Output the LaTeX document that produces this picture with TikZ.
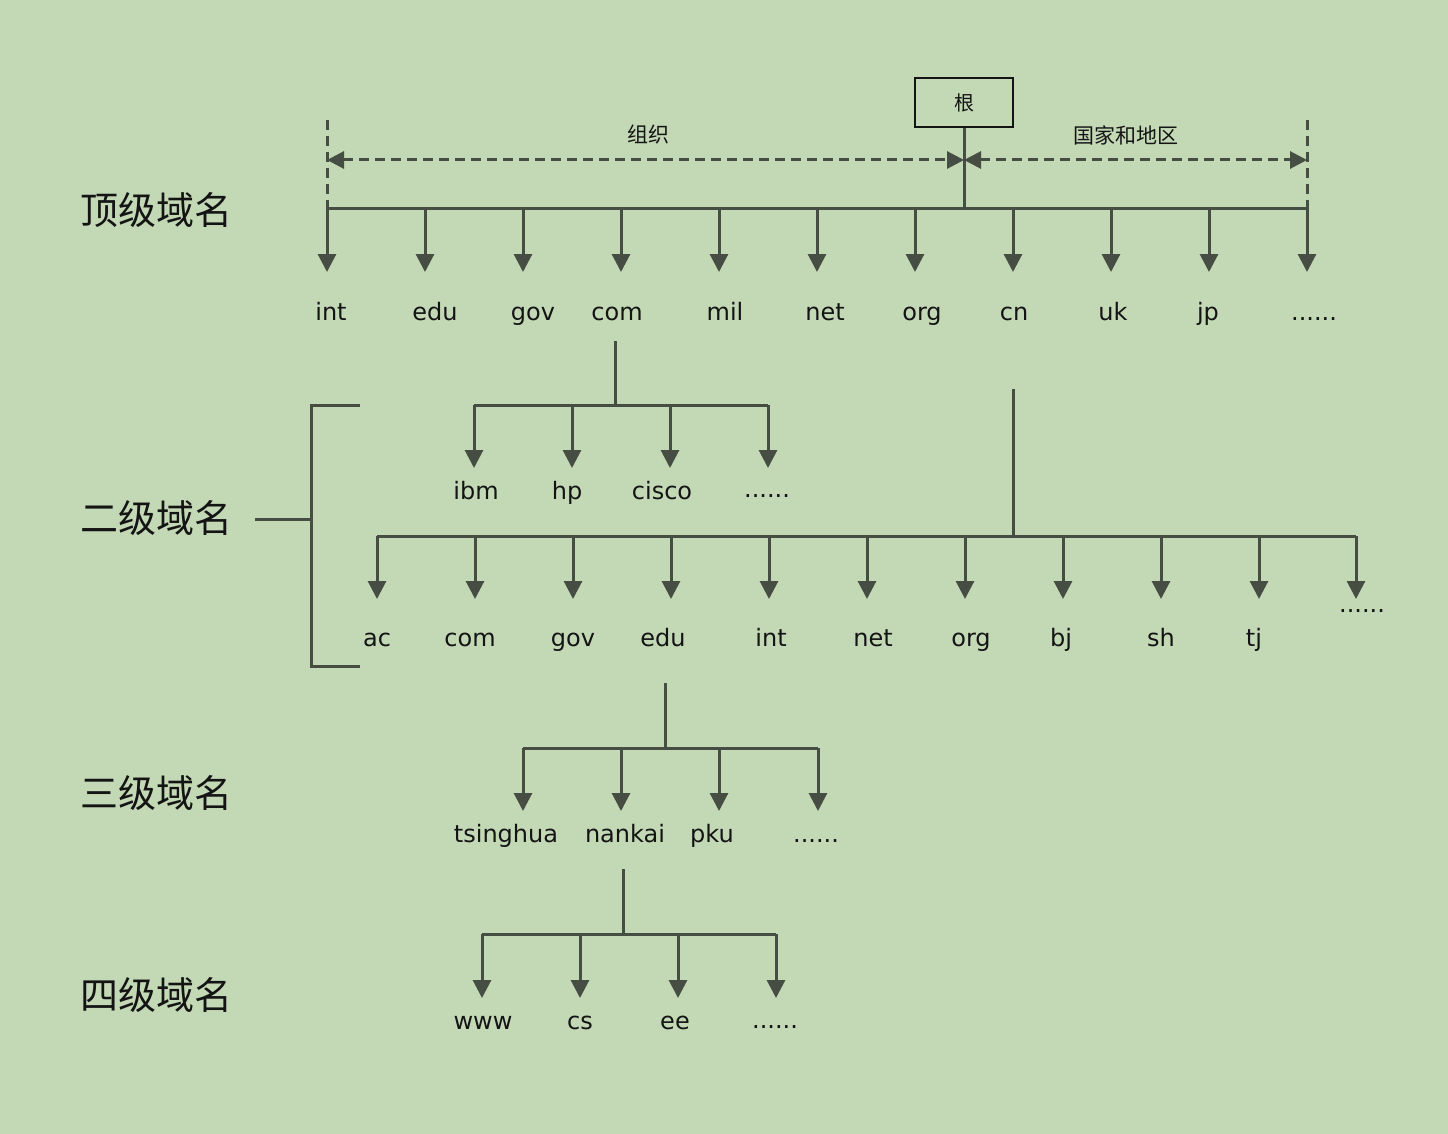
\documentclass[tikz,border=0pt]{standalone}
\usepackage{fontspec}
\setmainfont{DejaVu Sans}
\newfontfamily\cjk{Noto Sans CJK SC}
\usetikzlibrary{arrows.meta}
\definecolor{bgc}{RGB}{195,216,181}
\definecolor{lnc}{RGB}{70,77,67}
\definecolor{txc}{RGB}{20,20,20}
\begin{document}
\begin{tikzpicture}[x=1pt,y=-1pt,
  solidln/.style={draw=lnc,line width=3pt},
  arr/.style={solidln,-{Triangle[width=18pt,length=18pt]}},
  dsh/.style={draw=lnc,line width=3pt,dash pattern=on 10pt off 6pt},
  dsharr/.style={dsh,{Triangle[width=17pt,length=17pt]}-{Triangle[width=17pt,length=17pt]}},
  lab/.style={text=txc,font=\fontsize{24}{24}\selectfont,inner sep=0pt,anchor=base},
  lvl/.style={text=txc,font=\cjk\fontsize{38}{38}\selectfont,inner sep=0pt},
  captext/.style={text=txc,font=\cjk\fontsize{21}{21}\selectfont,inner sep=0pt},
  rootbox/.style={draw=txc,line width=2pt,minimum width=98pt,minimum height=49pt,text=txc,font=\cjk\fontsize{20}{20}\selectfont}]
\fill[bgc] (0,0) rectangle (1448,1134);
\useasboundingbox (0,0) rectangle (1448,1134);

% level labels
\node[lvl] (L1) at (156,210) {顶级域名};
\node[lvl] (L2) at (156,518) {二级域名};
\node[lvl] (L3) at (156,793) {三级域名};
\node[lvl] (L4) at (156,995) {四级域名};

% root
\node[rootbox] (root) at (964,103) {根};
\coordinate (rc) at (964,160);
\coordinate (rb) at (964,209);
\draw[solidln] (root.south) -- (rb);

% dashed markers
\coordinate (dlt) at (327,120);
\coordinate (dlb) at (327,209);
\coordinate (drt) at (1307,120);
\coordinate (drb) at (1307,209);
\draw[dsh] (dlt) -- (dlb);
\draw[dsh] (drt) -- (drb);
\coordinate (dl) at (327,160);
\coordinate (dr) at (1307,160);
\draw[dsharr] (dl) -- (rc);
\draw[dsharr] (rc) -- (dr);
\node[captext] (orgcap) at (648,135) {组织};
\node[captext] (ctycap) at (1126,135) {国家和地区};

% top level bus
\coordinate (b1l) at (327,209);
\coordinate (b1r) at (1307,209);
\draw[solidln] (b1l) -- (b1r);
\coordinate (e1) at (0,272);
\foreach \x [count=\i] in {327,425,523,621,719,817,915,1013,1111,1209,1307}{
  \coordinate (t\i) at (\x,209);
  \draw[arr] (t\i) -- (t\i |- e1);
}
\foreach \x/\t [count=\i] in {331/int,435/edu,533/gov,617/com,725/mil,825/net,922/org,1014/cn,1113/uk,1208/jp}{
  \node[lab] (n1-\i) at (\x,320) {\t};
}
\node[lab] (n1-11) at (1314,320) {......};

% com subtree
\coordinate (c0) at (615,341);
\coordinate (c1) at (615,405);
\coordinate (c1l) at (474,405);
\coordinate (c1r) at (768,405);
\draw[solidln] (c0) -- (c1);
\draw[solidln] (c1l) -- (c1r);
\coordinate (e2) at (0,468);
\foreach \x [count=\i] in {474,572,670,768}{
  \coordinate (s\i) at (\x,405);
  \draw[arr] (s\i) -- (s\i |- e2);
}
\foreach \x/\t [count=\i] in {476/ibm,567/hp,662/cisco}{
  \node[lab] (n2-\i) at (\x,499) {\t};
}
\node[lab] (n2-4) at (767,497) {......};

% cn subtree
\coordinate (k0) at (1013,389);
\coordinate (k1) at (1013,536);
\coordinate (k1l) at (377,536);
\coordinate (k1r) at (1356,536);
\draw[solidln] (k0) -- (k1);
\draw[solidln] (k1l) -- (k1r);
\coordinate (e3) at (0,599);
\foreach \x [count=\i] in {377,475,573,671,769,867,965,1063,1161,1259,1356}{
  \coordinate (k\i t) at (\x,536);
  \draw[arr] (k\i t) -- (k\i t |- e3);
}
\foreach \x/\t [count=\i] in {377/ac,470/com,573/gov,663/edu,771/int,873/net,971/org,1061/bj,1161/sh,1254/tj}{
  \node[lab] (n3-\i) at (\x,646) {\t};
}
\node[lab] (n3-11) at (1362,612) {......};

% bracket
\coordinate (brt) at (311,405);
\coordinate (brb) at (311,666);
\coordinate (brtr) at (360,405);
\coordinate (brbr) at (360,666);
\coordinate (brm) at (311,519);
\coordinate (brml) at (255,519);
\draw[solidln] (brtr) -- (brt) -- (brb) -- (brbr);
\draw[solidln] (brml) -- (brm);

% edu subtree
\coordinate (u0) at (665,683);
\coordinate (u1) at (665,748);
\coordinate (u1l) at (523,748);
\coordinate (u1r) at (818,748);
\draw[solidln] (u0) -- (u1);
\draw[solidln] (u1l) -- (u1r);
\coordinate (e4) at (0,811);
\foreach \x [count=\i] in {523,621,719,818}{
  \coordinate (u\i t) at (\x,748);
  \draw[arr] (u\i t) -- (u\i t |- e4);
}
\foreach \x/\t [count=\i] in {506/tsinghua,625/nankai,712/pku}{
  \node[lab] (n4-\i) at (\x,842) {\t};
}
\node[lab] (n4-4) at (816,842) {......};

% nankai subtree
\coordinate (w0) at (623,869);
\coordinate (w1) at (623,934);
\coordinate (w1l) at (482,934);
\coordinate (w1r) at (776,934);
\draw[solidln] (w0) -- (w1);
\draw[solidln] (w1l) -- (w1r);
\coordinate (e5) at (0,998);
\foreach \x [count=\i] in {482,580,678,776}{
  \coordinate (w\i t) at (\x,934);
  \draw[arr] (w\i t) -- (w\i t |- e5);
}
\foreach \x/\t [count=\i] in {483/www,580/cs,675/ee}{
  \node[lab] (n5-\i) at (\x,1029) {\t};
}
\node[lab] (n5-4) at (775,1028) {......};
\end{tikzpicture}
\end{document}
